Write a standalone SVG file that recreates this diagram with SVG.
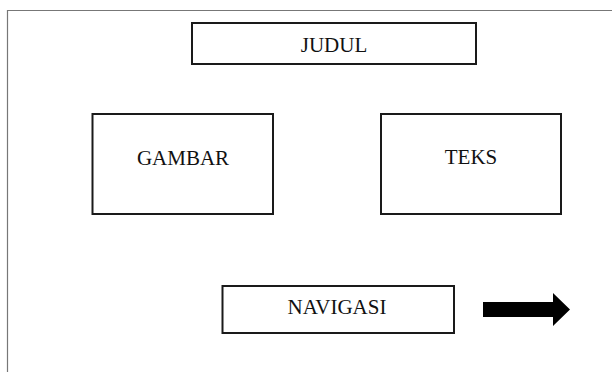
<svg xmlns="http://www.w3.org/2000/svg" width="612" height="372" viewBox="0 0 612 372">
<style>
.box{fill:#fff;stroke:#1a1a1a;stroke-width:2}
.lbl{font-family:"Liberation Serif","Times New Roman",serif;font-size:21px;fill:#111;text-anchor:middle}
.frame{stroke:#777;stroke-width:1.2;fill:none}
</style>
<rect width="612" height="372" fill="#fff"/>
<path class="frame" d="M7.5,372 V10.5 H612"/>
<g id="judul">
<rect class="box" x="192" y="23" width="284" height="41"/>
<text class="lbl" x="334" y="52">JUDUL</text>
</g>
<g id="gambar">
<rect class="box" x="92.5" y="114" width="180.5" height="100"/>
<text class="lbl" x="183" y="164.5">GAMBAR</text>
</g>
<g id="teks">
<rect class="box" x="381" y="114" width="180" height="100"/>
<text class="lbl" x="471" y="164">TEKS</text>
</g>
<g id="navigasi">
<rect class="box" x="222.5" y="286" width="231.5" height="47"/>
<text class="lbl" x="337" y="313.5">NAVIGASI</text>
</g>
<g id="connectors">
<polygon points="483,302 553,302 553,293 570,309.5 553,326 553,317 483,317" fill="#000"/>
</g>
</svg>
